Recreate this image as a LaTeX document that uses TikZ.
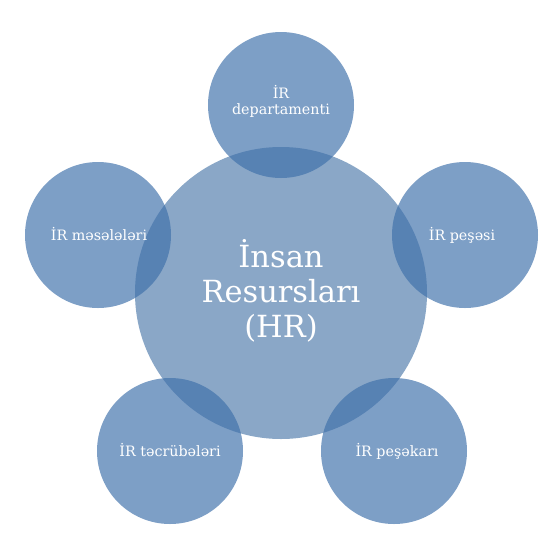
\documentclass[tikz,border=0pt]{standalone}
\usepackage{fontspec}
\setmainfont{DejaVu Serif}
\definecolor{outerblue}{RGB}{62,112,170}
\definecolor{centerblue}{RGB}{72,118,168}
\begin{document}
\begin{tikzpicture}[x=1pt,y=-1pt,
  outercirc/.style={circle, minimum size=146pt, inner sep=0pt, fill=outerblue, fill opacity=0.67, draw=none},
  centercirc/.style={circle, minimum size=292pt, inner sep=0pt, fill=centerblue, fill opacity=0.64, draw=none},
  smalltext/.style={text=white, font=\fontsize{14.3}{16}\selectfont, align=center, inner sep=0pt},
  bigtext/.style={text=white, font=\fontsize{30.5}{35}\selectfont, align=center, inner sep=0pt}]
\useasboundingbox (0,0) rectangle (557,547);
\fill[white] (0,0) rectangle (557,547);
\node[centercirc] (hr) at (281,293) {};
\node[outercirc] (dep) at (281,105) {};
\node[outercirc] (pes) at (465,235) {};
\node[outercirc] (pka) at (394,451) {};
\node[outercirc] (tec) at (170,451) {};
\node[outercirc] (mes) at (98,235) {};
\node[bigtext] (hrt) at (281,291) {İnsan\\Resursları\\(HR)};
\node[smalltext] (dept) at (281,101) {İR\\departamenti};
\node[smalltext, anchor=base] (pest) at (462,240) {İR peşəsi};
\node[smalltext, anchor=base] (pkat) at (397,456) {İR peşəkarı};
\node[smalltext, anchor=base] (tect) at (170,456) {İR təcrübələri};
\node[smalltext, anchor=base] (mest) at (99,240) {İR məsələləri};
\end{tikzpicture}
\end{document}
